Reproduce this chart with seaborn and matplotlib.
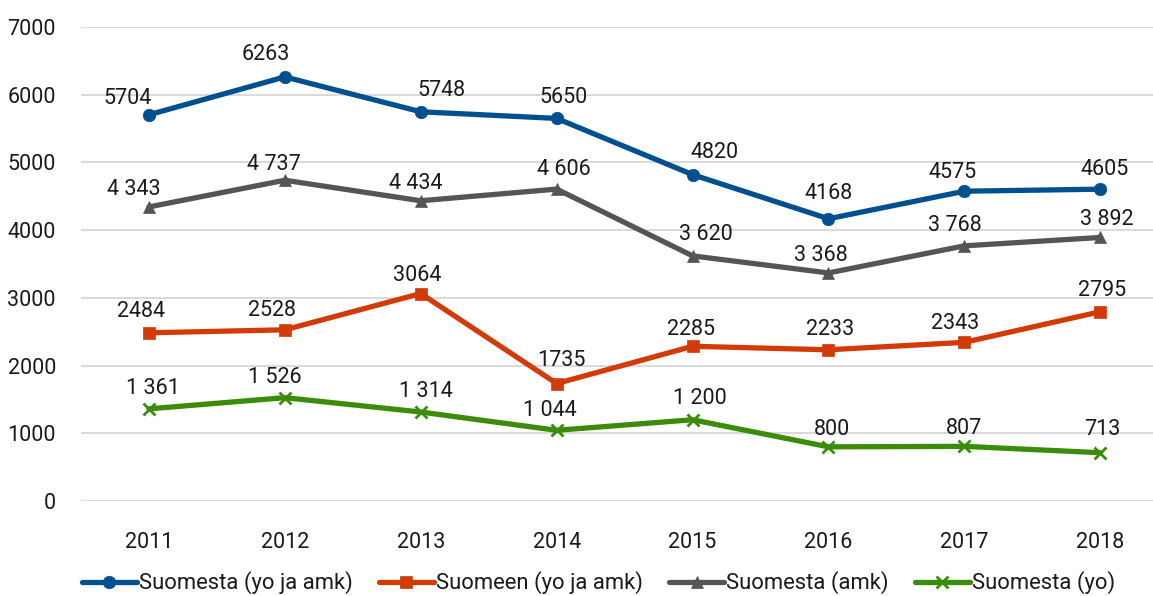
import matplotlib
matplotlib.use("Agg")
import matplotlib.pyplot as plt
import seaborn as sns

years = [2011, 2012, 2013, 2014, 2015, 2016, 2017, 2018]

suomesta_yo_amk = [5704, 6263, 5748, 5650, 4820, 4168, 4575, 4605]
suomeen_yo_amk = [2484, 2528, 3064, 1735, 2285, 2233, 2343, 2795]
suomesta_amk = [4343, 4737, 4434, 4606, 3620, 3368, 3768, 3892]
suomesta_yo = [1361, 1526, 1314, 1044, 1200, 800, 807, 713]

names = ["Suomesta (yo ja amk)", "Suomeen (yo ja amk)", "Suomesta (amk)", "Suomesta (yo)"]
yticks = [0, 1000, 2000, 3000, 4000, 5000, 6000, 7000]

sns.set_style("white")
plt.rcParams["font.family"] = ["Roboto", "DejaVu Sans"]

fig = plt.figure(figsize=(11.53, 5.96), dpi=100)
ax = fig.add_axes([81 / 1153, 1 - 501 / 596, 1 - 81 / 1153, (501 - 27) / 596])

# tyyli: väri, merkki, merkin koko, etiketin muoto (välilyönti tuhaterottimena vai ei)
styles = [
    ("#00508F", "o", 9, False),
    ("#D23A07", "s", 9, False),
    ("#555555", "^", 9, True),
    ("#3C8C0C", "x", 8, True),
]
series = [suomesta_yo_amk, suomeen_yo_amk, suomesta_amk, suomesta_yo]

# etikettien siirrot pikseleinä (dx, dy)
offsets = [
    [(-21, 16), (-19, 22), (21, 21), (7, 21), (22, 22), (0, 25), (-12, 19), (4, 20)],
    [(-8, 21), (-13, 19), (-4, 18), (5, 23), (-2, 17), (2, 20), (-9, 19), (2, 21)],
    [(-15, 17), (-11, 16), (-5, 17), (7, 20), (13, 21), (-8, 17), (-9, 20), (7, 18)],
    [(4, 20), (-10, 20), (5, 21), (-7, 20), (7, 21), (4, 17), (0, 18), (2, 23)],
]

zorders = [5, 4, 3, 2]
for vals, name, (c, m, ms, space), offs, z in zip(series, names, styles, offsets, zorders):
    sns.lineplot(x=years, y=vals, color=c, marker=m, markersize=ms,
                 markeredgecolor=c, markerfacecolor=c,
                 markeredgewidth=2 if m == "x" else 0.5,
                 linewidth=3.8, label=name, ax=ax, zorder=z)
    for x, v, (dx, dy) in zip(years, vals, offs):
        txt = f"{v:,}".replace(",", " ") if space else str(v)
        ax.annotate(txt, (x, v), xytext=(dx, dy), textcoords="offset pixels",
                    ha="center", va="center", fontsize=15.5, color="#1a1a1a", zorder=6)

ax.set_xlim(2010.5, 2010.5 + (1153 - 81) / 135.9)
ax.set_ylim(0, 7000)
ax.set_xticks(years)
ax.set_xticklabels([str(y) for y in years])
ax.set_yticks(yticks)
ax.set_yticklabels([str(t) for t in yticks])
ax.tick_params(axis="both", labelsize=15.5, length=0, colors="#1a1a1a")
ax.tick_params(axis="x", pad=22)
ax.tick_params(axis="y", pad=18)
ax.grid(axis="y", color="#D9D9D9", linewidth=1.4)
ax.grid(axis="x", visible=False)
ax.set_axisbelow(True)
for s in ax.spines.values():
    s.set_visible(False)
ax.set_xlabel("")
ax.set_ylabel("")

ax.legend_.remove()
h, l = ax.get_legend_handles_labels()
fig.legend(h, l, loc="center", bbox_to_anchor=(0.519, 0.022), ncol=4, frameon=False,
           fontsize=15.8, handlelength=2.5, handletextpad=0.1, columnspacing=1.2,
           labelcolor="#1a1a1a")

fig.savefig("out.png", dpi=100)
